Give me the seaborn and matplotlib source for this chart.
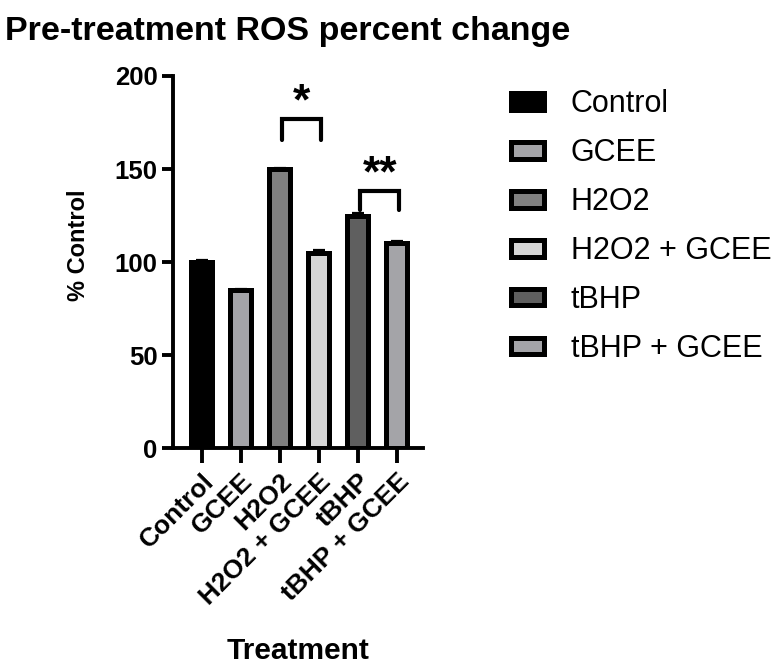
import pandas as pd
import seaborn as sns
import matplotlib.pyplot as plt

treatments = ['Control', 'GCEE', 'H2O2', 'H2O2 + GCEE', 'tBHP', 'tBHP + GCEE']
means = [100.0, 85.0, 150.0, 105.0, 125.0, 110.3]
errors = [1.0, 0.7, 0.4, 1.5, 1.3, 1.3]
colors = ['#000000', '#a3a3a9', '#808080', '#d6d6d6', '#5f5f5f', '#a3a3a9']

# significance brackets: (left bar, right bar, bracket top, leg bottom, label)
sig_pairs = [(2, 3, 177, 165.5, '*'), (4, 5, 138.3, 128, '**')]

sns.set_theme(style='ticks')
plt.rcParams['font.family'] = ['Liberation Sans', 'DejaVu Sans']
for key in ['text.color', 'axes.labelcolor', 'xtick.color', 'ytick.color',
            'axes.edgecolor']:
    plt.rcParams[key] = 'black'

fig = plt.figure(figsize=(7.75, 6.66), dpi=100)
ax = fig.add_axes([0.2232, 0.3269, 0.3226, 0.559])

df = pd.DataFrame({'Treatment': treatments, 'value': means})
sns.barplot(data=df, x='Treatment', y='value', hue='Treatment',
            palette=colors, dodge=False, width=0.53, errorbar=None,
            edgecolor='black', linewidth=3.6, legend=True, ax=ax)

ax.errorbar(range(len(treatments)), means, yerr=[[0] * len(errors), errors],
            fmt='none', ecolor='black', elinewidth=1.6, capsize=4.5,
            capthick=1.6, zorder=0.5)

for x0, x1, top, bottom, label in sig_pairs:
    ax.plot([x0 + 0.07, x0 + 0.07, x1 + 0.07, x1 + 0.07],
            [bottom, top, top, bottom], color='black', lw=3, clip_on=False,
            solid_joinstyle='miter')
    ax.text((x0 + x1) / 2 + 0.07, top - 2.5, label, ha='center', va='bottom',
            fontsize=32, fontweight='bold')

ax.set_ylim(0, 200)
ax.set_xlim(-0.736, 5.674)
ax.set_yticks([0, 50, 100, 150, 200])
sns.despine(ax=ax)
for side in ['left', 'bottom']:
    ax.spines[side].set_linewidth(2.8)
ax.tick_params(axis='y', length=8, width=2.8, labelsize=18.5, pad=3)
ax.tick_params(axis='x', length=11, width=2.8, labelsize=19, pad=4)
for lbl in ax.get_yticklabels():
    lbl.set_fontweight('bold')
plt.setp(ax.get_xticklabels(), rotation=45, ha='right',
         rotation_mode='anchor', fontweight='bold')

ax.set_ylabel('% Control', fontsize=17, fontweight='bold')
ax.yaxis.set_label_coords(-0.33, 0.546)
ax.set_xlabel('Treatment', fontsize=21.5, fontweight='bold')
ax.xaxis.set_label_coords(0.5, -0.508)
fig.text(0.006, 0.952, 'Pre-treatment ROS percent change', fontsize=24.5,
         fontweight='bold', ha='left', va='center')

leg = ax.legend(loc='upper left', bbox_to_anchor=(0.659, 0.866),
                bbox_transform=fig.transFigure, frameon=False, fontsize=22,
                handlelength=1.1, handleheight=0.46, labelspacing=0.62,
                handletextpad=0.87, borderpad=0, borderaxespad=0)
for patch in leg.get_patches():
    patch.set_linewidth(3.6)

fig.savefig('out.png', dpi=100)
